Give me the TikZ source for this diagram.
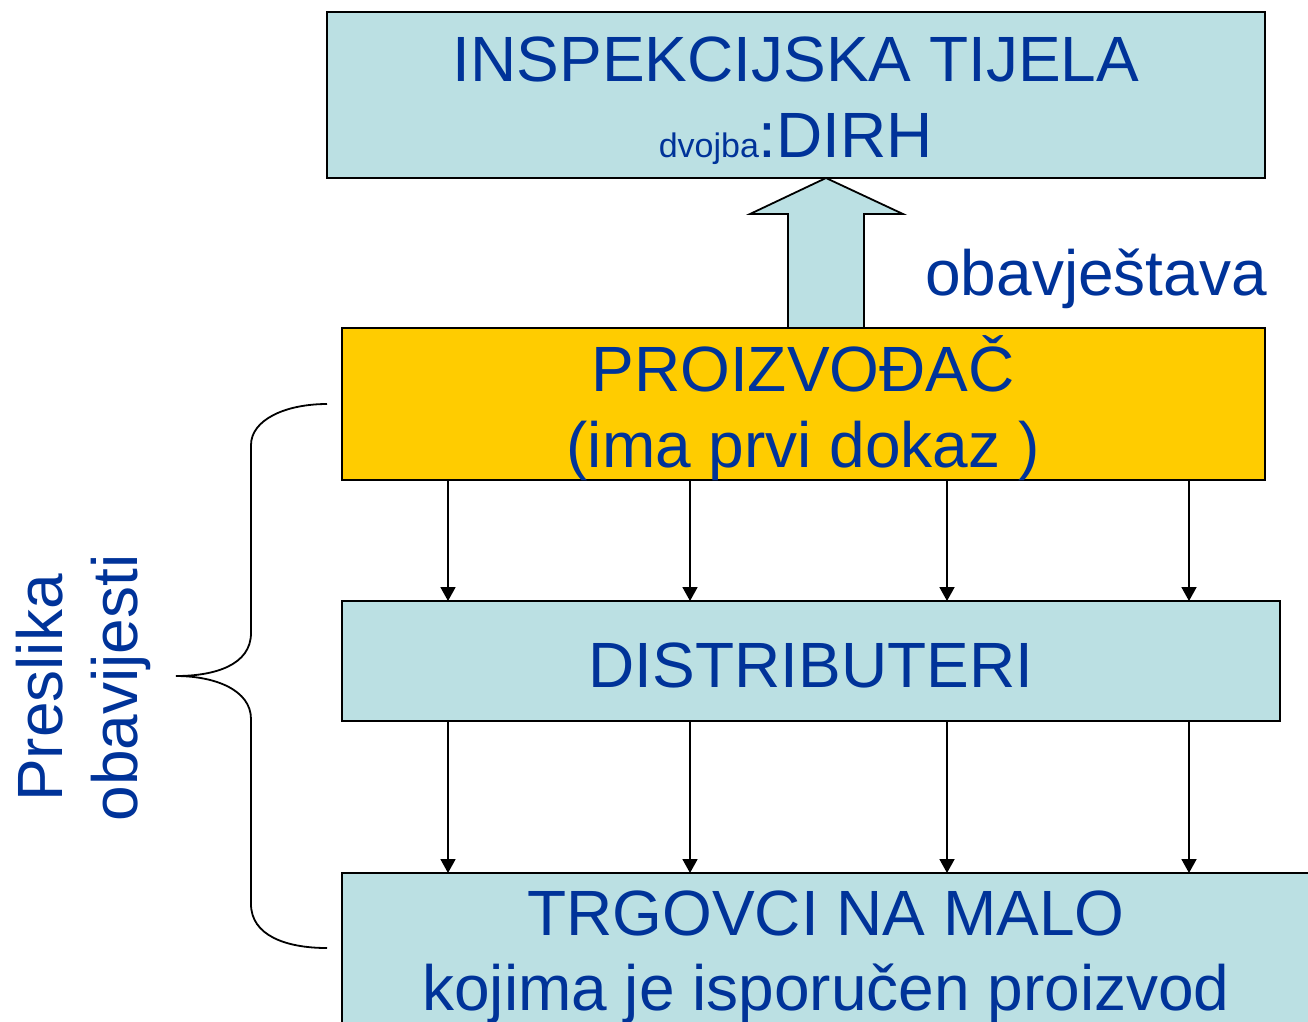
\documentclass[tikz,border=0pt]{standalone}
\usepackage{fontspec}
\setmainfont{Liberation Sans}
\usetikzlibrary{arrows.meta}
\definecolor{txtblue}{HTML}{003399}
\definecolor{boxblue}{HTML}{BBE0E3}
\definecolor{boxyellow}{HTML}{FFCC00}
\begin{document}
\begin{tikzpicture}[x=1pt,y=-1pt,
  box/.style={draw=black,line width=2pt,anchor=north west,inner sep=0pt,outer sep=0pt},
  lbl/.style={text=txtblue,font=\fontsize{64}{76}\selectfont,anchor=base,inner sep=0pt},
  conn/.style={-{Triangle[length=14pt,width=15pt]},line width=1.8pt},
  outline/.style={draw=black,line width=1.8pt}]
\useasboundingbox (0,0) rectangle (1308,1021);
\clip (0,0) rectangle (1308,1021);
\fill[white] (0,0) rectangle (1308,1021);
% boxes
\node[box,fill=boxblue,minimum width=938pt,minimum height=166pt] (insp) at (327,12) {};
\node[box,fill=boxyellow,minimum width=923pt,minimum height=152pt] (prod) at (342,328) {};
\node[box,fill=boxblue,minimum width=938pt,minimum height=120pt] (dist) at (342,601) {};
\node[box,fill=boxblue,minimum width=968pt,minimum height=200pt] (trg) at (342,873) {};
% block arrow
\draw[outline,fill=boxblue,line join=miter] (788,328) -- (788,214) -- (750,214) -- (826,178) -- (903,214) -- (864,214) -- (864,328) -- cycle;
% texts
\node[lbl] (t1) at (796,81) {INSPEKCIJSKA TIJELA};
\node[lbl] (t2) at (796,157) {{\fontsize{34}{40}\selectfont dvojba}:DIRH};
\node[lbl] (t3) at (803,391) {PROIZVOĐAČ};
\node[lbl] (t4) at (803,467) {(ima prvi dokaz )};
\node[lbl] (t5) at (811,687) {DISTRIBUTERI};
\node[lbl] (t6) at (826,935) {TRGOVCI NA MALO};
\node[lbl] (t7) at (826,1010) {kojima je isporučen proizvod};
\node[lbl,anchor=base east] (t8) at (1267,295) {obavještava};
\node[lbl,rotate=90] (t9) at (62,688) {Preslika};
\node[lbl,rotate=90] (t10) at (137,688) {obavijesti};
% connectors
\foreach \i/\x in {1/448,2/690,3/947,4/1189}{
  \coordinate (c\i) at (\x,0);
  \draw[conn] (prod.south -| c\i) -- (dist.north -| c\i);
  \draw[conn] (dist.south -| c\i) -- (trg.north -| c\i);
}
% brace
\draw[outline] (327,404) .. controls (285,404) and (251,420) .. (251,445)
  -- (251,633) .. controls (251,665) and (215,676) .. (176,676)
  .. controls (215,676) and (251,690) .. (251,719)
  -- (251,904) .. controls (251,935) and (285,948) .. (327,948);
\end{tikzpicture}
\end{document}
